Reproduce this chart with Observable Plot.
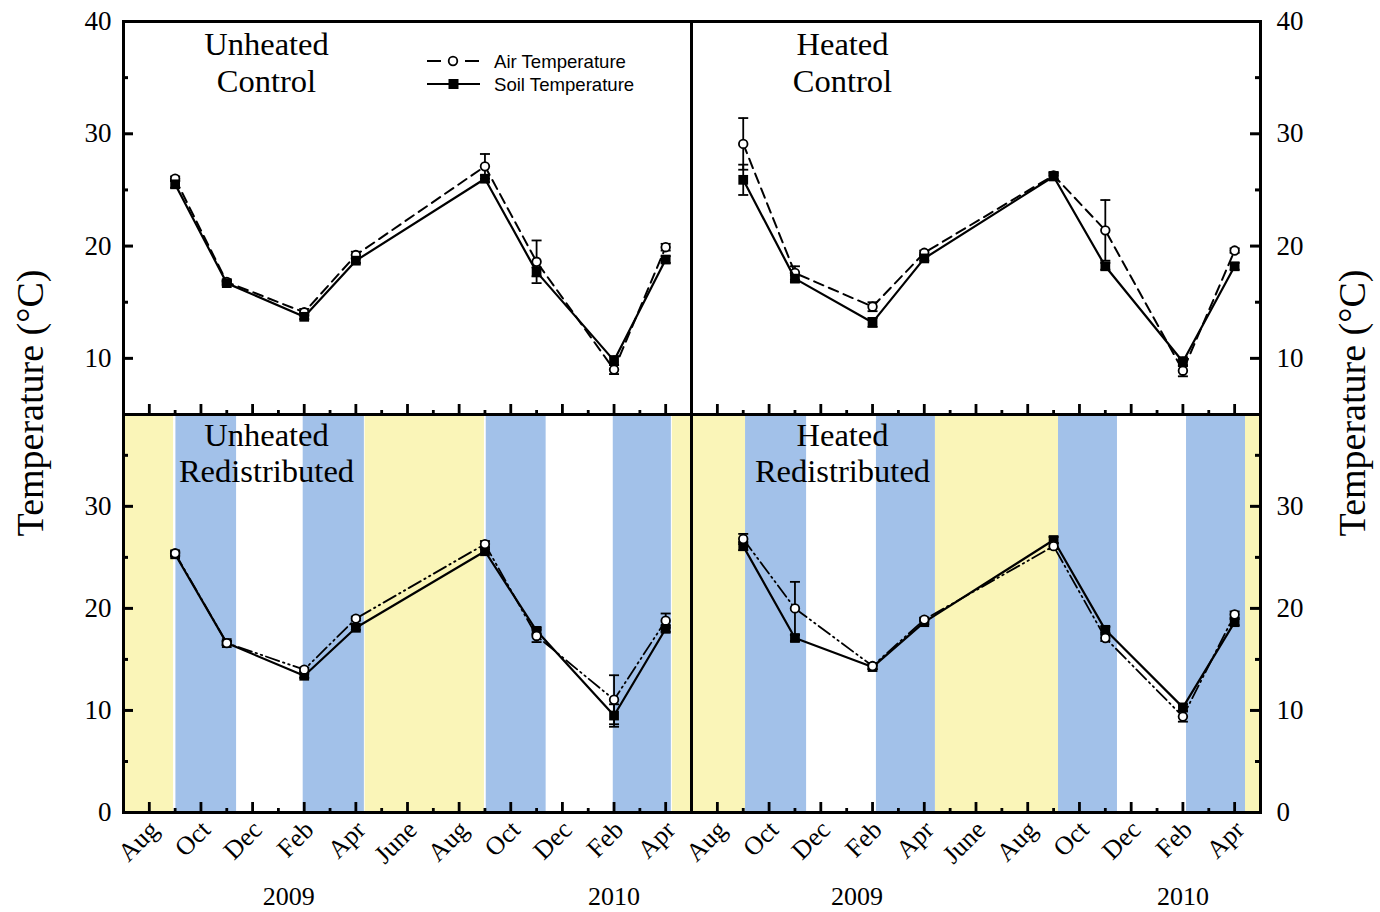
<!DOCTYPE html>
<html><head><meta charset="utf-8">
<script src="https://cdn.jsdelivr.net/npm/d3@7"></script>
<script src="https://cdn.jsdelivr.net/npm/@observablehq/plot@0.6"></script>
<style>
body{margin:0;background:#fff;}
#wrap{position:relative;width:1380px;height:912px;overflow:hidden;background:#fff;}
#wrap svg.plotpanel{position:absolute;left:0;top:0;overflow:visible;}
.ytitle{position:absolute;width:400px;height:44px;line-height:44px;text-align:center;font-family:'Liberation Serif','Times New Roman',serif;font-size:38px;transform:rotate(-90deg);white-space:nowrap;}
#legend{position:absolute;left:0;top:0;}
</style></head>
<body><div id="wrap"></div>
<script>
// ---------- data ----------
const dates = ["2008-09","2008-11","2009-02","2009-04","2009-09","2009-11","2010-02","2010-04"];

const unheatedControlAir    = [26.0, 16.8, 14.1, 19.2, 27.1, 18.6, 9.0, 19.9];
const unheatedControlAirErr = [0.2, 0.2, 0.3, 0.3, 1.1, 1.9, 0.4, 0.3];
const unheatedControlSoil   = [25.5, 16.7, 13.7, 18.7, 26.0, 17.7, 9.8, 18.8];
const unheatedControlSoilErr= [0.3, 0.2, 0.2, 0.2, 0.3, 0.4, 0.4, 0.3];

const heatedControlAir      = [29.1, 17.6, 14.6, 19.4, 26.3, 21.4, 8.9, 19.6];
const heatedControlAirErr   = [2.3, 0.6, 0.4, 0.2, 0.3, 2.7, 0.5, 0.2];
const heatedControlSoil     = [25.9, 17.1, 13.2, 18.9, 26.2, 18.2, 9.7, 18.2];
const heatedControlSoilErr  = [1.35, 0.3, 0.4, 0.2, 0.3, 0.3, 0.4, 0.3];

const unheatedRedistAir     = [25.4, 16.6, 14.0, 19.0, 26.3, 17.3, 11.05, 18.8];
const unheatedRedistAirErr  = [0.2, 0.2, 0.2, 0.2, 0.3, 0.6, 2.4, 0.7];
const unheatedRedistSoil    = [25.3, 16.6, 13.4, 18.1, 25.6, 17.8, 9.5, 18.0];
const unheatedRedistSoilErr = [0.2, 0.2, 0.2, 0.2, 0.2, 0.3, 1.1, 0.3];

const heatedRedistAir       = [26.8, 20.0, 14.35, 18.9, 26.1, 17.1, 9.4, 19.4];
const heatedRedistAirErr    = [0.5, 2.6, 0.3, 0.2, 0.3, 0.3, 0.5, 0.3];
const heatedRedistSoil      = [26.1, 17.1, 14.25, 18.65, 26.7, 17.9, 10.3, 18.65];
const heatedRedistSoilErr   = [0.4, 0.3, 0.2, 0.2, 0.3, 0.3, 0.3, 0.3];

// shaded periods (kind, start month, end month; months counted from Aug 2008)
const unheatedRedistPeriods = [["Y",-1,0.94],["B",1.03,3.38],["B",5.96,8.33],["Y",8.36,12.98],["B",13.05,15.37],["B",17.97,20.22],["Y",20.26,21]];
const heatedRedistPeriods   = [["Y",-1,1.09],["B",1.09,3.45],["B",6.15,8.43],["Y",8.43,13.19],["B",13.19,15.47],["B",18.14,20.42],["Y",20.42,21]];

const monthTickLabels = ["Aug","Oct","Dec","Feb","Apr","June","Aug","Oct","Dec","Feb","Apr"];
const yearLabels = ["2009","2010"];
const yearLabelMonths = [5.4, 18];
const panelTitles = ["Unheated\nControl","Heated\nControl","Unheated\nRedistributed","Heated\nRedistributed"];
const seriesNames = ["Air Temperature","Soil Temperature"];

// ---------- drawing ----------
const SERIF = "'Liberation Serif','Times New Roman',serif";
const SANS = "'Liberation Sans',Arial,sans-serif";
const YELLOW = "#faf5b8", BLUE = "#a2c1e9";
const W = 1380, H = 912;
const monthIndex = s => { const [y, m] = s.split("-").map(Number); return (y - 2008) * 12 + (m - 8); };
const capSymbol = {draw(ctx, size) { const r = Math.sqrt(size / Math.PI); ctx.moveTo(-r, 0); ctx.lineTo(r, 0); }};

function panel({air, airErr, soil, soilErr, periods, title, right, bottom}) {
  const fx0 = right ? 691 : 123, fx1 = right ? 1260 : 691;
  const fy0 = bottom ? 414 : 21, fy1 = bottom ? 812 : 414;
  const fw = fx1 - fx0, fh = fy1 - fy0;
  const rows = dates.map((d, i) => ({m: monthIndex(d), air: air[i], airErr: airErr[i], soil: soil[i], soilErr: soilErr[i]}));
  const yMajor = bottom ? [0, 10, 20, 30] : [10, 20, 30, 40];
  const yMinor = bottom ? [5, 15, 25, 35] : [15, 25, 35];
  const xMajor = d3.range(0, 21, 2), xMinor = d3.range(1, 21, 2);
  const marks = [];
  if (periods) {
    const bands = periods.map(([kind, s, e]) => ({kind, s, e}));
    marks.push(Plot.rect(bands.filter(b => b.kind === "Y"), {x1: "s", x2: "e", fill: YELLOW}));
    marks.push(Plot.rect(bands.filter(b => b.kind === "B"), {x1: "s", x2: "e", fill: BLUE}));
  }
  const airMarks = [
    Plot.line(rows, {x: "m", y: "air", stroke: "black", strokeWidth: bottom ? 1.8 : 2, strokeDasharray: bottom ? "14,4,1.5,4,1.5,4" : "10,6"}),
    Plot.ruleX(rows, {x: "m", y1: d => d.air - d.airErr, y2: d => d.air + d.airErr, stroke: "black", strokeWidth: 1.8}),
    Plot.dot(rows, {x: "m", y: d => d.air + d.airErr, symbol: capSymbol, r: 5, stroke: "black", strokeWidth: 1.8}),
    Plot.dot(rows, {x: "m", y: d => d.air - d.airErr, symbol: capSymbol, r: 5, stroke: "black", strokeWidth: 1.8}),
    Plot.dot(rows, {x: "m", y: "air", r: 4.3, fill: "white", stroke: "black", strokeWidth: 1.8})
  ];
  const soilMarks = [
    Plot.line(rows, {x: "m", y: "soil", stroke: "black", strokeWidth: 2.2}),
    Plot.ruleX(rows, {x: "m", y1: d => d.soil - d.soilErr, y2: d => d.soil + d.soilErr, stroke: "black", strokeWidth: 1.8}),
    Plot.dot(rows, {x: "m", y: d => d.soil + d.soilErr, symbol: capSymbol, r: 5, stroke: "black", strokeWidth: 1.8}),
    Plot.dot(rows, {x: "m", y: d => d.soil - d.soilErr, symbol: capSymbol, r: 5, stroke: "black", strokeWidth: 1.8}),
    Plot.dot(rows, {x: "m", y: "soil", symbol: "square", r: 5.5, fill: "black"})
  ];
  if (bottom) marks.push(...soilMarks, ...airMarks); else marks.push(...airMarks, ...soilMarks);

  // inward ticks
  marks.push(
    Plot.tickY(yMajor, {y: d => d, insetLeft: right ? fw - 10 : 0, insetRight: right ? 0 : fw - 10, strokeWidth: 3}),
    Plot.tickY(yMinor, {y: d => d, insetLeft: right ? fw - 5 : 0, insetRight: right ? 0 : fw - 5, strokeWidth: 3}),
    Plot.tickX(xMajor, {x: d => d, insetTop: fh - 10, strokeWidth: 2.8}),
    Plot.tickX(xMinor, {x: d => d, insetTop: fh - 4, strokeWidth: 2.8}),
    Plot.frame({stroke: "black", strokeWidth: 3}),
    Plot.axisY(yMajor, {anchor: right ? "right" : "left", tickSize: 0, tickPadding: right ? 16 : 12, label: null, fontSize: 27, tickFormat: d => String(d)}),
    Plot.text([title], {frameAnchor: "top-left", dx: right ? 151 : 143, dy: bottom ? 5 : 7.8, textAnchor: "middle", lineAnchor: "top", fontSize: 32.5, lineHeight: 1.13})
  );
  if (bottom) {
    marks.push(
      Plot.axisX(xMajor, {anchor: "bottom", tickSize: 0, tickPadding: 13, tickRotate: -45, tickFormat: d => monthTickLabels[d / 2], label: null, fontSize: 26, dx: 5}),
      Plot.text(yearLabels, {x: (d, i) => yearLabelMonths[i], frameAnchor: "bottom", dy: 92, fontSize: 26})
    );
  }
  const svg = Plot.plot({
    width: W, height: H,
    marginLeft: fx0, marginRight: W - fx1, marginTop: fy0, marginBottom: H - fy1,
    x: {domain: [-1, 21], axis: bottom ? undefined : null},
    y: {domain: bottom ? [0, 39] : [5, 40]},
    style: {fontFamily: SERIF, fontSize: "25px", background: "transparent", overflow: "visible", color: "black"},
    marks
  });
  svg.classList.add("plotpanel");
  return svg;
}

const wrap = document.getElementById("wrap");
wrap.append(
  panel({air: unheatedControlAir, airErr: unheatedControlAirErr, soil: unheatedControlSoil, soilErr: unheatedControlSoilErr, title: panelTitles[0], right: false, bottom: false}),
  panel({air: heatedControlAir, airErr: heatedControlAirErr, soil: heatedControlSoil, soilErr: heatedControlSoilErr, title: panelTitles[1], right: true, bottom: false}),
  panel({air: unheatedRedistAir, airErr: unheatedRedistAirErr, soil: unheatedRedistSoil, soilErr: unheatedRedistSoilErr, periods: unheatedRedistPeriods, title: panelTitles[2], right: false, bottom: true}),
  panel({air: heatedRedistAir, airErr: heatedRedistAirErr, soil: heatedRedistSoil, soilErr: heatedRedistSoilErr, periods: heatedRedistPeriods, title: panelTitles[3], right: true, bottom: true})
);

// axis titles
for (const cx of [30, 1352]) {
  const t = document.createElement("div");
  t.className = "ytitle";
  t.textContent = "Temperature (°C)";
  t.style.left = (cx - 200) + "px";
  t.style.top = (403 - 22) + "px";
  wrap.append(t);
}

// legend
const NS = "http://www.w3.org/2000/svg";
const lg = document.createElementNS(NS, "svg");
lg.setAttribute("id", "legend");
lg.setAttribute("width", W); lg.setAttribute("height", 120);
lg.innerHTML = `
  <g stroke="black" stroke-width="2">
    <line x1="427" y1="61" x2="441" y2="61"/><line x1="465" y1="61" x2="479" y2="61"/>
    <circle cx="453" cy="61" r="4.3" fill="white" stroke-width="1.8"/>
    <line x1="427" y1="84" x2="480" y2="84" stroke-width="2.2"/>
    <rect x="448.5" y="79" width="10" height="10" fill="black" stroke="none"/>
  </g>
  <g font-family="${SANS}" font-size="18.6" fill="black">
    <text x="494" y="61" dominant-baseline="central">${seriesNames[0]}</text>
    <text x="494" y="84" dominant-baseline="central">${seriesNames[1]}</text>
  </g>`;
wrap.append(lg);
</script>
</body></html>
